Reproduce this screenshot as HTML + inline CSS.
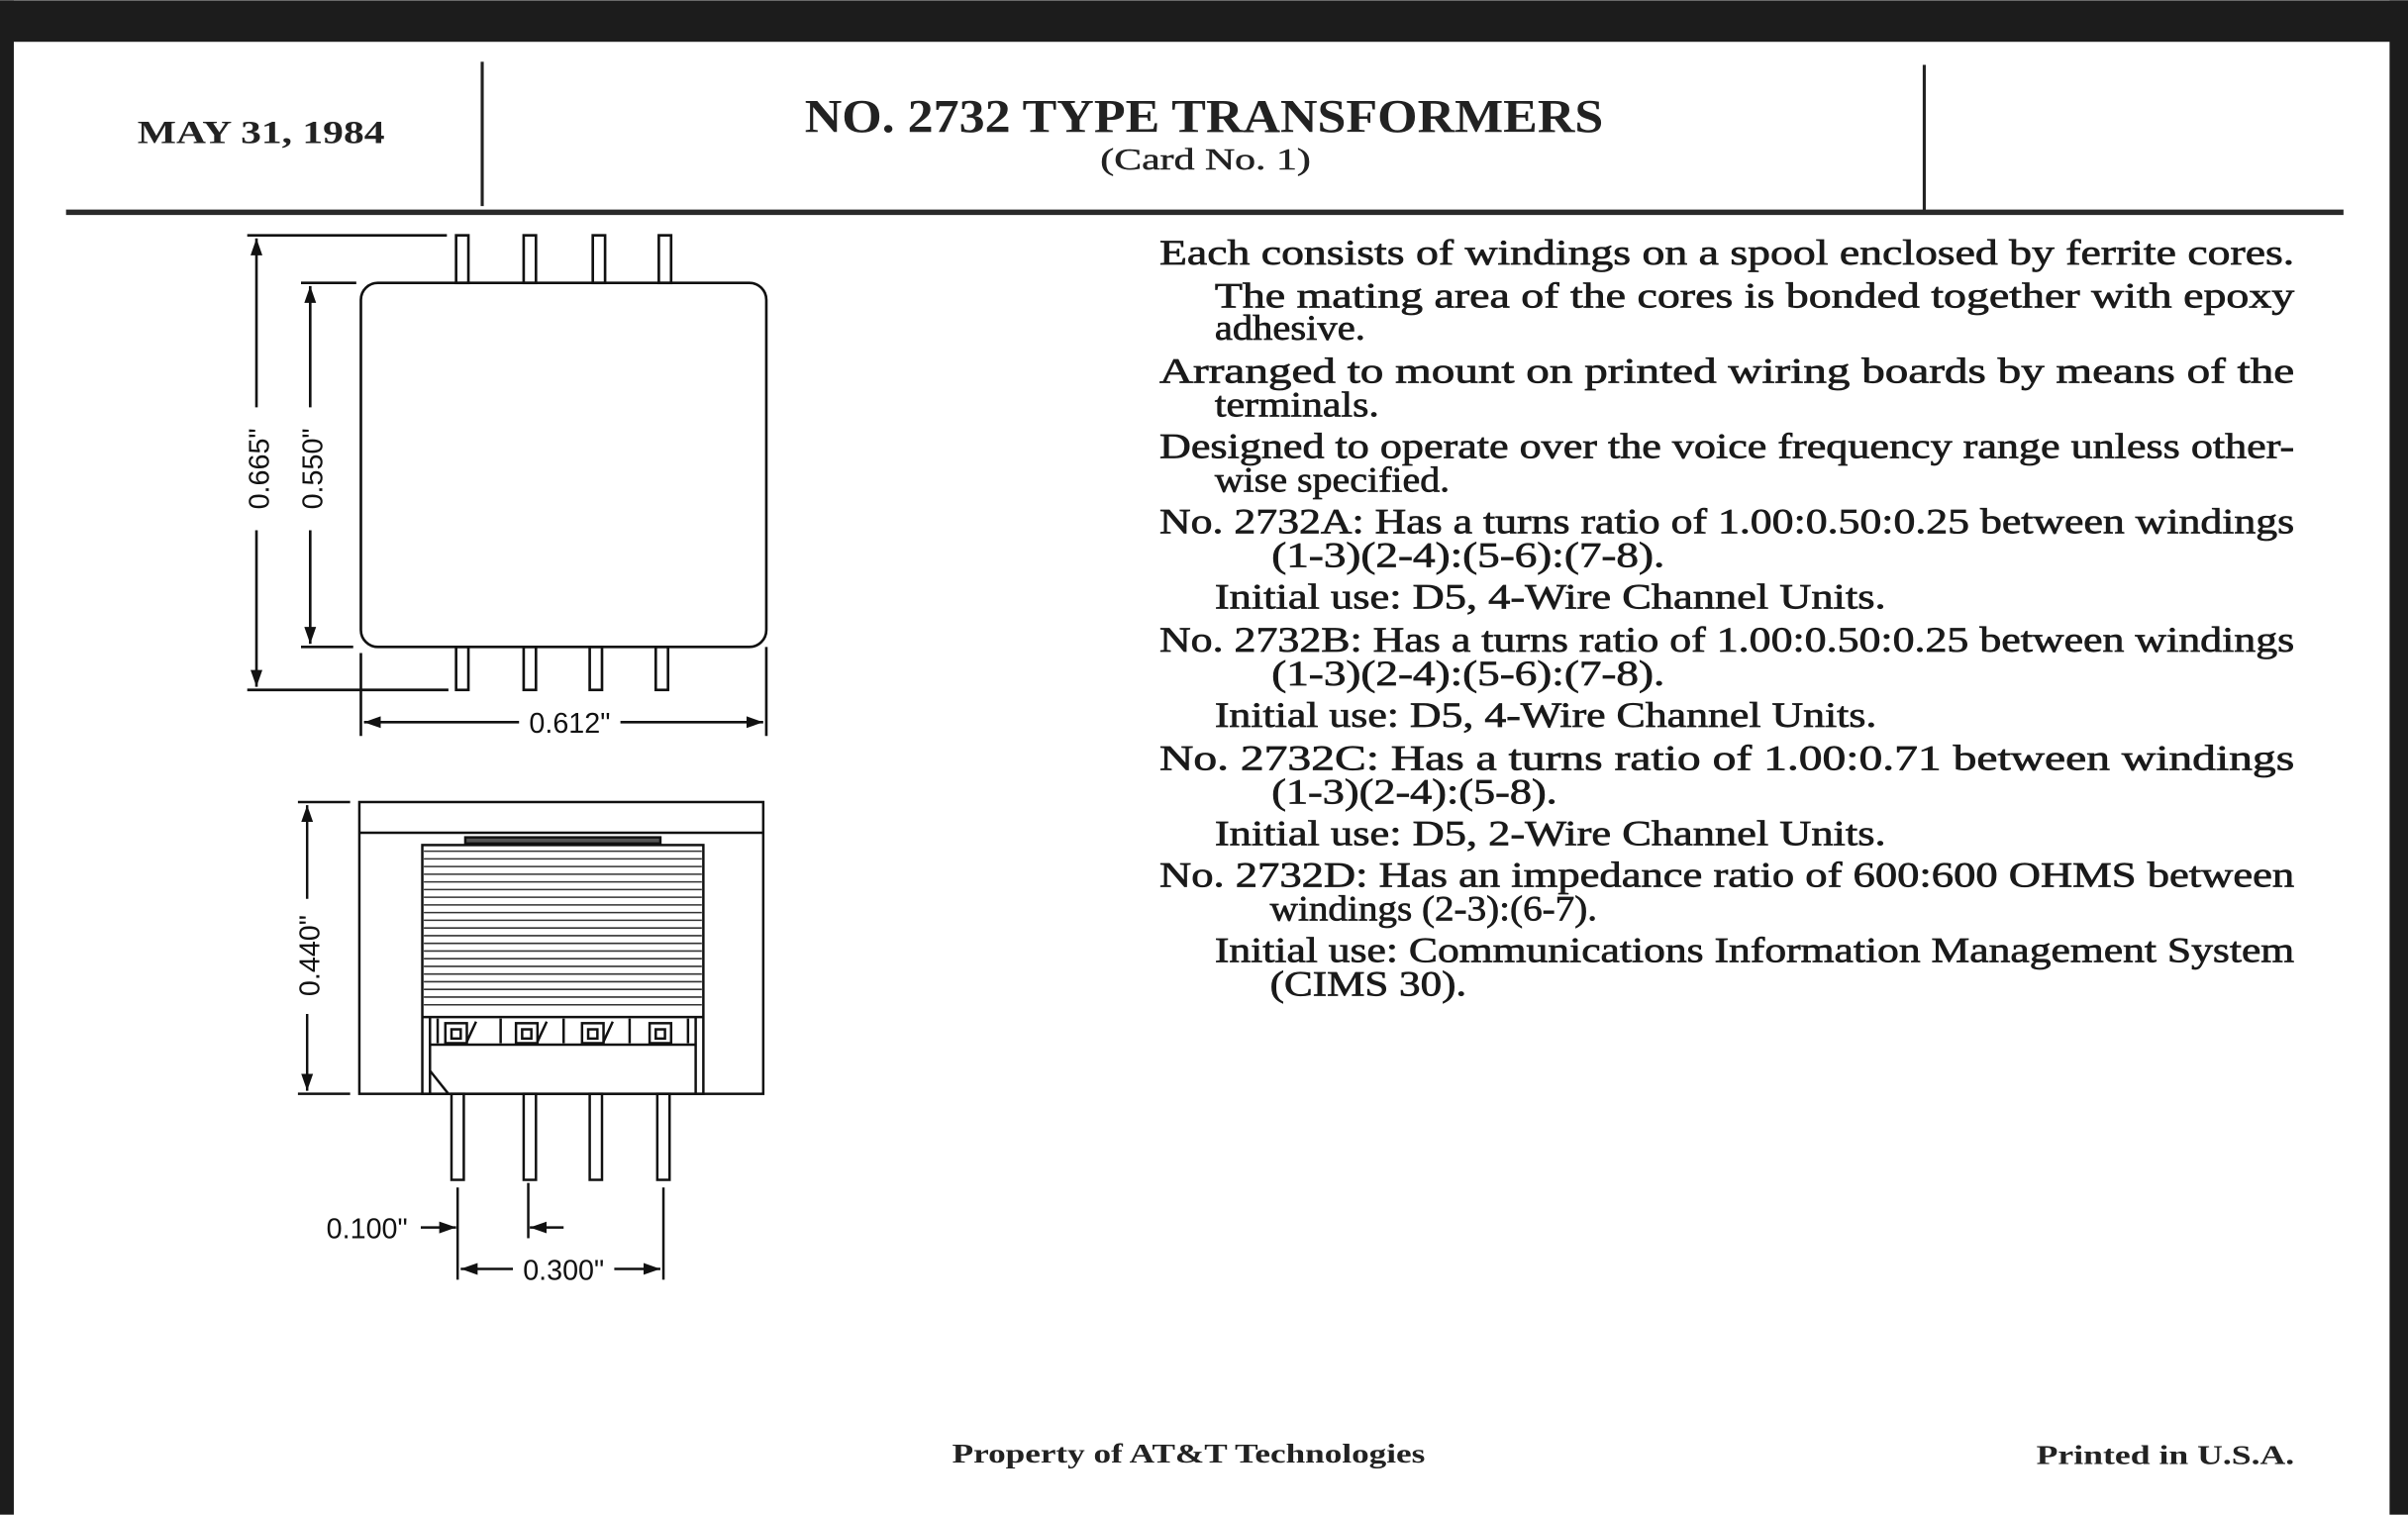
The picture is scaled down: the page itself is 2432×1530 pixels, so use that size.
<!DOCTYPE html>
<html><head><meta charset="utf-8"><style>
html,body{margin:0;padding:0;background:#fff;}
svg{display:block;}
.t{font-family:"Liberation Serif",serif;font-size:23px;fill:#1a1a1a;stroke:#1a1a1a;stroke-width:0.45;}
.d{font-family:"Liberation Sans",sans-serif;font-size:18.5px;fill:#111;}
</style></head><body>
<svg width="2432" height="1530" viewBox="0 0 1568 986" xmlns="http://www.w3.org/2000/svg">
<rect x="0" y="0" width="1568" height="986" fill="#fff"/>
<rect x="0" y="0" width="1568" height="27" fill="#1c1c1c"/>
<rect x="0" y="0" width="9" height="986" fill="#1c1c1c"/>
<rect x="1556" y="0" width="12" height="986" fill="#1c1c1c"/>
<!-- header -->
<line x1="314" y1="40" x2="314" y2="134" stroke="#222" stroke-width="2"/>
<line x1="1253" y1="42" x2="1253" y2="138" stroke="#222" stroke-width="2"/>
<line x1="43" y1="138" x2="1526" y2="138" stroke="#2a2a2a" stroke-width="3.5"/>
<text x="170" y="93" text-anchor="middle" font-family="Liberation Serif,serif" font-weight="bold" font-size="21" fill="#222" textLength="161" lengthAdjust="spacingAndGlyphs">MAY 31, 1984</text>
<text x="784" y="86" text-anchor="middle" font-family="Liberation Serif,serif" font-weight="bold" font-size="31" fill="#222" textLength="520" lengthAdjust="spacingAndGlyphs">NO. 2732 TYPE TRANSFORMERS</text>
<text x="785" y="110" text-anchor="middle" font-family="Liberation Serif,serif" font-size="20" fill="#222" stroke="#222" stroke-width="0.3" textLength="137" lengthAdjust="spacingAndGlyphs">(Card No. 1)</text>
<!-- body text -->
<g class="t">
<text x="755" y="172" textLength="739" lengthAdjust="spacingAndGlyphs">Each consists of windings on a spool enclosed by ferrite cores.</text>
<text x="791" y="200" textLength="703" lengthAdjust="spacingAndGlyphs">The mating area of the cores is bonded together with epoxy</text>
<text x="791" y="221" textLength="98" lengthAdjust="spacingAndGlyphs">adhesive.</text>
<text x="755" y="249" textLength="739" lengthAdjust="spacingAndGlyphs">Arranged to mount on printed wiring boards by means of the</text>
<text x="791" y="271" textLength="107" lengthAdjust="spacingAndGlyphs">terminals.</text>
<text x="755" y="298" textLength="739" lengthAdjust="spacingAndGlyphs">Designed to operate over the voice frequency range unless other-</text>
<text x="791" y="320" textLength="153" lengthAdjust="spacingAndGlyphs">wise specified.</text>
<text x="755" y="347" textLength="739" lengthAdjust="spacingAndGlyphs">No. 2732A: Has a turns ratio of 1.00:0.50:0.25 between windings</text>
<text x="828" y="369" textLength="256" lengthAdjust="spacingAndGlyphs">(1-3)(2-4):(5-6):(7-8).</text>
<text x="791" y="396" textLength="437" lengthAdjust="spacingAndGlyphs">Initial use: D5, 4-Wire Channel Units.</text>
<text x="755" y="424" textLength="739" lengthAdjust="spacingAndGlyphs">No. 2732B: Has a turns ratio of 1.00:0.50:0.25 between windings</text>
<text x="828" y="446" textLength="256" lengthAdjust="spacingAndGlyphs">(1-3)(2-4):(5-6):(7-8).</text>
<text x="791" y="473" textLength="431" lengthAdjust="spacingAndGlyphs">Initial use: D5, 4-Wire Channel Units.</text>
<text x="755" y="501" textLength="739" lengthAdjust="spacingAndGlyphs">No. 2732C: Has a turns ratio of 1.00:0.71 between windings</text>
<text x="828" y="523" textLength="186" lengthAdjust="spacingAndGlyphs">(1-3)(2-4):(5-8).</text>
<text x="791" y="550" textLength="437" lengthAdjust="spacingAndGlyphs">Initial use: D5, 2-Wire Channel Units.</text>
<text x="755" y="577" textLength="739" lengthAdjust="spacingAndGlyphs">No. 2732D: Has an impedance ratio of 600:600 OHMS between</text>
<text x="827" y="599" textLength="213" lengthAdjust="spacingAndGlyphs">windings (2-3):(6-7).</text>
<text x="791" y="626" textLength="703" lengthAdjust="spacingAndGlyphs">Initial use: Communications Information Management System</text>
<text x="827" y="648" textLength="128" lengthAdjust="spacingAndGlyphs">(CIMS 30).</text>
</g>
<text x="774" y="952" text-anchor="middle" font-family="Liberation Serif,serif" font-weight="bold" font-size="17.5" fill="#222" textLength="308" lengthAdjust="spacingAndGlyphs">Property of AT&amp;T Technologies</text>
<text x="1494" y="953" text-anchor="end" font-family="Liberation Serif,serif" font-weight="bold" font-size="17.5" fill="#222" textLength="168" lengthAdjust="spacingAndGlyphs">Printed in U.S.A.</text>

<defs>
<marker id="ar" viewBox="0 0 10 10" refX="10" refY="5" markerWidth="11" markerHeight="11" markerUnits="userSpaceOnUse" orient="auto"><path d="M0,1.5 L10,5 L0,8.5 Z" fill="#111"/></marker>
</defs>
<!-- top view -->
<g stroke="#111" stroke-width="1.7" fill="none">
<rect x="235" y="184" width="264" height="237" rx="11"/>
<rect x="297" y="153" width="8" height="31"/>
<rect x="341" y="153" width="8" height="31"/>
<rect x="386" y="153" width="8" height="31"/>
<rect x="429" y="153" width="8" height="31"/>
<rect x="297" y="421" width="8" height="28"/>
<rect x="341" y="421" width="8" height="28"/>
<rect x="384" y="421" width="8" height="28"/>
<rect x="427" y="421" width="8" height="28"/>
<line x1="161" y1="153" x2="291" y2="153"/>
<line x1="161" y1="449" x2="292" y2="449"/>
<line x1="196" y1="184" x2="232" y2="184"/>
<line x1="196" y1="421" x2="230" y2="421"/>
<line x1="167" y1="265" x2="167" y2="155" marker-end="url(#ar)"/>
<line x1="167" y1="345" x2="167" y2="447" marker-end="url(#ar)"/>
<line x1="202" y1="265" x2="202" y2="186" marker-end="url(#ar)"/>
<line x1="202" y1="345" x2="202" y2="419" marker-end="url(#ar)"/>
<line x1="235" y1="425" x2="235" y2="479"/>
<line x1="499" y1="421" x2="499" y2="479"/>
<line x1="338" y1="470" x2="237" y2="470" marker-end="url(#ar)"/>
<line x1="404" y1="470" x2="497" y2="470" marker-end="url(#ar)"/>
</g>
<text class="d" x="0" y="0" transform="translate(175,305) rotate(-90)" text-anchor="middle">0.665"</text>
<text class="d" x="0" y="0" transform="translate(210,305) rotate(-90)" text-anchor="middle">0.550"</text>
<text class="d" x="371" y="477" text-anchor="middle">0.612"</text>

<!-- side view -->
<g stroke="#111" stroke-width="1.6" fill="none">
<rect x="234" y="522" width="263" height="190"/>
<line x1="234" y1="542" x2="497" y2="542"/>
<rect x="303" y="545" width="127" height="4" fill="#555"/>
<rect x="275" y="550" width="183" height="162"/>
<line x1="280" y1="662" x2="280" y2="712"/>
<line x1="453" y1="662" x2="453" y2="712"/>
<line x1="275" y1="662" x2="458" y2="662"/>
<line x1="280" y1="680" x2="453" y2="680"/>
<path d="M280,697 L292,712"/>
<rect x="290" y="666" width="14" height="13"/><rect x="294" y="670" width="6" height="6"/>
<rect x="336" y="666" width="14" height="13"/><rect x="340" y="670" width="6" height="6"/>
<rect x="379" y="666" width="14" height="13"/><rect x="383" y="670" width="6" height="6"/>
<rect x="423" y="666" width="14" height="13"/><rect x="427" y="670" width="6" height="6"/>
<path d="M304,678 L310,665 M350,678 L356,665 M393,678 L399,665"/>
<line x1="285" y1="663" x2="285" y2="679"/><line x1="326" y1="663" x2="326" y2="679"/><line x1="367" y1="663" x2="367" y2="679"/><line x1="410" y1="663" x2="410" y2="679"/><line x1="448" y1="663" x2="448" y2="679"/>
<rect x="294" y="712" width="8" height="56"/>
<rect x="341" y="712" width="8" height="56"/>
<rect x="384" y="712" width="8" height="56"/>
<rect x="428" y="712" width="8" height="56"/>
<line x1="194" y1="522" x2="228" y2="522"/>
<line x1="194" y1="712" x2="228" y2="712"/>
<line x1="200" y1="585" x2="200" y2="524" marker-end="url(#ar)"/>
<line x1="200" y1="660" x2="200" y2="710" marker-end="url(#ar)"/>
<line x1="298" y1="773" x2="298" y2="833"/>
<line x1="344" y1="770" x2="344" y2="806"/>
<line x1="432" y1="773" x2="432" y2="833"/>
<line x1="274" y1="799" x2="297" y2="799" marker-end="url(#ar)"/>
<line x1="367" y1="799" x2="345" y2="799" marker-end="url(#ar)"/>
<line x1="334" y1="826" x2="300" y2="826" marker-end="url(#ar)"/>
<line x1="400" y1="826" x2="430" y2="826" marker-end="url(#ar)"/>
</g>
<g stroke="#333" stroke-width="1">
<path d="M276,554H457M276,559H457M276,564H457M276,569H457M276,574H457M276,579H457M276,584H457M276,589H457M276,594H457M276,599H457M276,604H457M276,609H457M276,614H457M276,619H457M276,624H457M276,629H457M276,634H457M276,639H457M276,644H457M276,649H457M276,654H457"/>
</g>
<text class="d" x="0" y="0" transform="translate(208,622) rotate(-90)" text-anchor="middle">0.440"</text>
<text class="d" x="239" y="806" text-anchor="middle">0.100"</text>
<text class="d" x="367" y="833" text-anchor="middle">0.300"</text>
</svg>
</body></html>
